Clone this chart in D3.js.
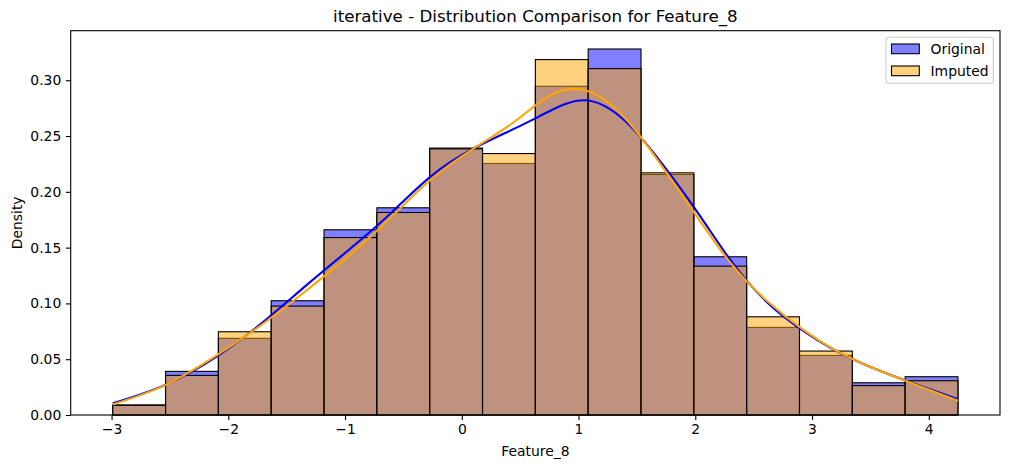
<!DOCTYPE html>
<html>
<head>
<meta charset="utf-8">
<script src="https://cdn.jsdelivr.net/npm/d3@7"></script>
<style>
  html, body { margin: 0; padding: 0; background: #ffffff; }
  svg { display: block; }
  text { font-family: "DejaVu Sans", sans-serif; fill: #000; }
</style>
</head>
<body>
<svg id="chart" width="1010" height="468"></svg>
<script>
// ---- data ----
const titleText = "iterative - Distribution Comparison for Feature_8";
const xLabel = "Feature_8";
const yLabel = "Density";
const seriesNames = ["Original", "Imputed"];
const seriesColors = ["#0000ff", "#ffa500"];

const binEdges = [-2.99, -2.5375, -2.085, -1.6325, -1.18, -0.7275, -0.275, 0.1775, 0.63,
                  1.0825, 1.535, 1.9875, 2.44, 2.8925, 3.345, 3.7975, 4.25];
const originalDensity = [0.0090, 0.0391, 0.0687, 0.1024, 0.1660, 0.1857, 0.2392, 0.2254,
                         0.2946, 0.3280, 0.2155, 0.1418, 0.0785, 0.0534, 0.0289, 0.0343];
const imputedDensity  = [0.0087, 0.0355, 0.0746, 0.0976, 0.1590, 0.1815, 0.2385, 0.2343,
                         0.3185, 0.3104, 0.2170, 0.1334, 0.0880, 0.0573, 0.0263, 0.0307];

const kdeX = [-2.99, -2.54, -2.09, -1.70, -1.35, -1.0, -0.65, -0.27, 0.10, 0.45,
              0.75, 1.05, 1.35, 1.65, 2.0, 2.3, 2.6, 2.95, 3.35, 3.8, 4.25];
const kdeOriginal = [0.0105, 0.0270, 0.0530, 0.0835, 0.1146, 0.1452, 0.1767, 0.2134, 0.2388, 0.2566,
                     0.2722, 0.2821, 0.2680, 0.2340, 0.1845, 0.1390, 0.1025, 0.0737, 0.0499, 0.0309, 0.0141];
const kdeImputed  = [0.0095, 0.0268, 0.0540, 0.0820, 0.1100, 0.1399, 0.1727, 0.2106, 0.2388, 0.2628,
                     0.2860, 0.2912, 0.2713, 0.2325, 0.1800, 0.1365, 0.1035, 0.0745, 0.0499, 0.0307, 0.0128];

const xTicks = [-3, -2, -1, 0, 1, 2, 3, 4];
const yTicks = [0.00, 0.05, 0.10, 0.15, 0.20, 0.25, 0.30];

// ---- layout ----
const svg = d3.select("#chart");
const plotL = 70.7, plotR = 1000, plotT = 30.7, plotB = 415;

const x = d3.scaleLinear().domain([-3.35, 4.61]).range([plotL, plotR]);
const y = d3.scaleLinear().domain([0, 0.3444]).range([plotB, plotT]);

const g = svg.append("g");

// bars
const allDensities = [originalDensity, imputedDensity];
allDensities.forEach((dens, si) => {
  g.append("g").selectAll("rect")
    .data(dens)
    .join("rect")
    .attr("x", (d, i) => x(binEdges[i]))
    .attr("width", (d, i) => x(binEdges[i + 1]) - x(binEdges[i]))
    .attr("y", d => y(d))
    .attr("height", d => y(0) - y(d))
    .attr("fill", seriesColors[si])
    .attr("fill-opacity", 0.5)
    .attr("stroke", "#000")
    .attr("stroke-width", 1.1);
});

// KDE lines
const line = d3.line().x(d => x(d[0])).y(d => y(d[1])).curve(d3.curveNatural);
[kdeOriginal, kdeImputed].forEach((vals, si) => {
  g.append("path")
    .datum(kdeX.map((xv, i) => [xv, vals[i]]))
    .attr("d", line)
    .attr("fill", "none")
    .attr("stroke", seriesColors[si])
    .attr("stroke-width", 2.1);
});

// axes
const xAxis = d3.axisBottom(x).tickValues(xTicks).tickSize(4.9).tickPadding(4.5)
  .tickFormat(d => d < 0 ? "\u2212" + Math.abs(d) : String(d));
const gx = svg.append("g").attr("transform", `translate(0,${plotB})`).call(xAxis);
gx.select(".domain").remove();
gx.selectAll(".tick line").attr("stroke", "#000").attr("stroke-width", 1.1);
gx.selectAll(".tick text").attr("font-size", "13.9px").attr("font-family", "DejaVu Sans");

const yAxis = d3.axisLeft(y).tickValues(yTicks).tickSize(4.9).tickPadding(4.5)
  .tickFormat(d3.format(".2f"));
const gy = svg.append("g").attr("transform", `translate(${plotL},0)`).call(yAxis);
gy.select(".domain").remove();
gy.selectAll(".tick line").attr("stroke", "#000").attr("stroke-width", 1.1);
gy.selectAll(".tick text").attr("font-size", "13.9px").attr("font-family", "DejaVu Sans");

// spines
svg.append("rect")
  .attr("x", plotL).attr("y", plotT)
  .attr("width", plotR - plotL).attr("height", plotB - plotT)
  .attr("fill", "none").attr("stroke", "#000").attr("stroke-width", 1.1);

// title & labels
svg.append("text").attr("x", (plotL + plotR) / 2).attr("y", 22.4)
  .attr("text-anchor", "middle").attr("font-size", "16.7px").text(titleText);
svg.append("text").attr("x", (plotL + plotR) / 2).attr("y", 456)
  .attr("text-anchor", "middle").attr("font-size", "13.9px").text(xLabel);
svg.append("text")
  .attr("transform", `translate(22,${(plotT + plotB) / 2}) rotate(-90)`)
  .attr("text-anchor", "middle").attr("font-size", "13.9px").text(yLabel);

// legend
const lg = svg.append("g");
lg.append("rect").attr("x", 886).attr("y", 37.3).attr("width", 107.3).attr("height", 46)
  .attr("rx", 2.8).attr("fill", "#fff").attr("fill-opacity", 0.8)
  .attr("stroke", "#cccccc").attr("stroke-width", 1.1);
seriesNames.forEach((name, i) => {
  const yy = 44 + i * 22;
  lg.append("rect").attr("x", 891.5).attr("y", yy).attr("width", 27.8).attr("height", 9.7)
    .attr("fill", seriesColors[i]).attr("fill-opacity", 0.5)
    .attr("stroke", "#000").attr("stroke-width", 1.1);
  lg.append("text").attr("x", 930.5).attr("y", yy + 9.8)
    .attr("font-size", "13.9px").text(name);
});
</script>
</body>
</html>
